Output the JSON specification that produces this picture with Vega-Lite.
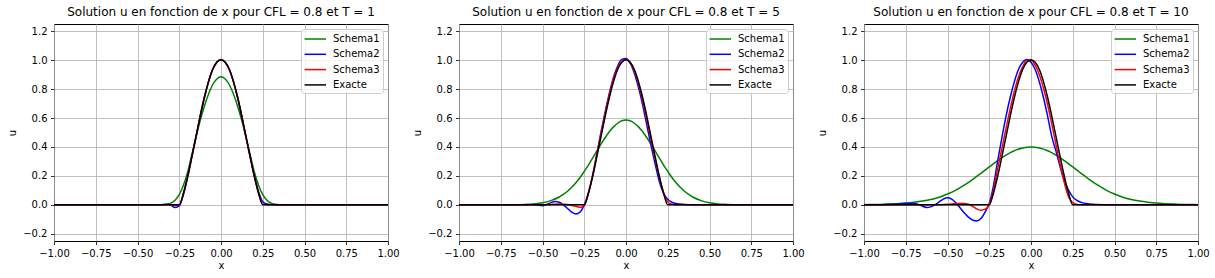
{
"$schema": "https://vega.github.io/schema/vega-lite/v6.json",
"background": "white",
"padding": {"left": 7, "top": 5, "right": 5, "bottom": 5},
"datasets": {
"exact": [
{"s":"Exacte","x":-1,"u":0},{"s":"Exacte","x":-0.25,"u":0},{"s":"Exacte","x":-0.225,"u":0.08},{"s":"Exacte","x":-0.2,"u":0.195},{"s":"Exacte","x":-0.175,"u":0.33},{"s":"Exacte","x":-0.15,"u":0.47},{"s":"Exacte","x":-0.125,"u":0.61},{"s":"Exacte","x":-0.1,"u":0.74},{"s":"Exacte","x":-0.075,"u":0.85},{"s":"Exacte","x":-0.05,"u":0.935},{"s":"Exacte","x":-0.025,"u":0.985},{"s":"Exacte","x":0,"u":1.003},{"s":"Exacte","x":0.025,"u":0.985},{"s":"Exacte","x":0.05,"u":0.935},{"s":"Exacte","x":0.075,"u":0.85},{"s":"Exacte","x":0.1,"u":0.74},{"s":"Exacte","x":0.125,"u":0.61},{"s":"Exacte","x":0.15,"u":0.47},{"s":"Exacte","x":0.175,"u":0.33},{"s":"Exacte","x":0.2,"u":0.195},{"s":"Exacte","x":0.225,"u":0.08},{"s":"Exacte","x":0.25,"u":0},{"s":"Exacte","x":1,"u":0}
],
"sch": [
{"T":1,"s":"Schema1","x":-1,"u":0},{"T":1,"s":"Schema1","x":-0.375,"u":0},{"T":1,"s":"Schema1","x":-0.35,"u":0.001},{"T":1,"s":"Schema1","x":-0.325,"u":0.004},{"T":1,"s":"Schema1","x":-0.3,"u":0.012},{"T":1,"s":"Schema1","x":-0.275,"u":0.032},{"T":1,"s":"Schema1","x":-0.25,"u":0.07},{"T":1,"s":"Schema1","x":-0.225,"u":0.135},{"T":1,"s":"Schema1","x":-0.2,"u":0.225},{"T":1,"s":"Schema1","x":-0.175,"u":0.345},{"T":1,"s":"Schema1","x":-0.15,"u":0.465},{"T":1,"s":"Schema1","x":-0.125,"u":0.58},{"T":1,"s":"Schema1","x":-0.1,"u":0.68},{"T":1,"s":"Schema1","x":-0.075,"u":0.765},{"T":1,"s":"Schema1","x":-0.05,"u":0.83},{"T":1,"s":"Schema1","x":-0.025,"u":0.87},{"T":1,"s":"Schema1","x":0,"u":0.885},{"T":1,"s":"Schema1","x":0.025,"u":0.87},{"T":1,"s":"Schema1","x":0.05,"u":0.83},{"T":1,"s":"Schema1","x":0.075,"u":0.765},{"T":1,"s":"Schema1","x":0.1,"u":0.68},{"T":1,"s":"Schema1","x":0.125,"u":0.58},{"T":1,"s":"Schema1","x":0.15,"u":0.465},{"T":1,"s":"Schema1","x":0.175,"u":0.345},{"T":1,"s":"Schema1","x":0.2,"u":0.225},{"T":1,"s":"Schema1","x":0.225,"u":0.135},{"T":1,"s":"Schema1","x":0.25,"u":0.07},{"T":1,"s":"Schema1","x":0.275,"u":0.032},{"T":1,"s":"Schema1","x":0.3,"u":0.012},{"T":1,"s":"Schema1","x":0.325,"u":0.004},{"T":1,"s":"Schema1","x":0.35,"u":0.001},{"T":1,"s":"Schema1","x":0.375,"u":0},{"T":1,"s":"Schema1","x":1,"u":0},

{"T":1,"s":"Schema2","x":-1,"u":0},{"T":1,"s":"Schema2","x":-0.375,"u":0},{"T":1,"s":"Schema2","x":-0.35,"u":0.002},{"T":1,"s":"Schema2","x":-0.325,"u":0.004},{"T":1,"s":"Schema2","x":-0.3,"u":-0.004},{"T":1,"s":"Schema2","x":-0.275,"u":-0.018},{"T":1,"s":"Schema2","x":-0.25,"u":-0.008},{"T":1,"s":"Schema2","x":-0.225,"u":0.07},{"T":1,"s":"Schema2","x":-0.2,"u":0.19},{"T":1,"s":"Schema2","x":-0.175,"u":0.33},{"T":1,"s":"Schema2","x":-0.15,"u":0.47},{"T":1,"s":"Schema2","x":-0.125,"u":0.61},{"T":1,"s":"Schema2","x":-0.1,"u":0.74},{"T":1,"s":"Schema2","x":-0.075,"u":0.85},{"T":1,"s":"Schema2","x":-0.05,"u":0.935},{"T":1,"s":"Schema2","x":-0.025,"u":0.985},{"T":1,"s":"Schema2","x":0,"u":1.005},{"T":1,"s":"Schema2","x":0.025,"u":0.985},{"T":1,"s":"Schema2","x":0.05,"u":0.935},{"T":1,"s":"Schema2","x":0.075,"u":0.85},{"T":1,"s":"Schema2","x":0.1,"u":0.74},{"T":1,"s":"Schema2","x":0.125,"u":0.605},{"T":1,"s":"Schema2","x":0.15,"u":0.465},{"T":1,"s":"Schema2","x":0.175,"u":0.33},{"T":1,"s":"Schema2","x":0.2,"u":0.2},{"T":1,"s":"Schema2","x":0.225,"u":0.09},{"T":1,"s":"Schema2","x":0.25,"u":0.022},{"T":1,"s":"Schema2","x":0.275,"u":0.006},{"T":1,"s":"Schema2","x":0.3,"u":0.002},{"T":1,"s":"Schema2","x":0.325,"u":0},{"T":1,"s":"Schema2","x":1,"u":0},

{"T":1,"s":"Schema3","x":-1,"u":0},{"T":1,"s":"Schema3","x":-0.325,"u":0},{"T":1,"s":"Schema3","x":-0.3,"u":-0.001},{"T":1,"s":"Schema3","x":-0.275,"u":-0.005},{"T":1,"s":"Schema3","x":-0.25,"u":-0.002},{"T":1,"s":"Schema3","x":-0.225,"u":0.078},{"T":1,"s":"Schema3","x":-0.2,"u":0.195},{"T":1,"s":"Schema3","x":-0.175,"u":0.33},{"T":1,"s":"Schema3","x":-0.15,"u":0.47},{"T":1,"s":"Schema3","x":-0.125,"u":0.61},{"T":1,"s":"Schema3","x":-0.1,"u":0.74},{"T":1,"s":"Schema3","x":-0.075,"u":0.85},{"T":1,"s":"Schema3","x":-0.05,"u":0.935},{"T":1,"s":"Schema3","x":-0.025,"u":0.985},{"T":1,"s":"Schema3","x":0,"u":1.003},{"T":1,"s":"Schema3","x":0.025,"u":0.985},{"T":1,"s":"Schema3","x":0.05,"u":0.935},{"T":1,"s":"Schema3","x":0.075,"u":0.85},{"T":1,"s":"Schema3","x":0.1,"u":0.74},{"T":1,"s":"Schema3","x":0.125,"u":0.61},{"T":1,"s":"Schema3","x":0.15,"u":0.47},{"T":1,"s":"Schema3","x":0.175,"u":0.33},{"T":1,"s":"Schema3","x":0.2,"u":0.195},{"T":1,"s":"Schema3","x":0.225,"u":0.082},{"T":1,"s":"Schema3","x":0.25,"u":0.005},{"T":1,"s":"Schema3","x":0.275,"u":0.001},{"T":1,"s":"Schema3","x":0.3,"u":0},{"T":1,"s":"Schema3","x":1,"u":0},

{"T":5,"s":"Schema1","x":-1,"u":0},{"T":5,"s":"Schema1","x":-0.8,"u":0},{"T":5,"s":"Schema1","x":-0.7,"u":0.0005},{"T":5,"s":"Schema1","x":-0.6,"u":0.003},{"T":5,"s":"Schema1","x":-0.55,"u":0.0064},{"T":5,"s":"Schema1","x":-0.5,"u":0.014},{"T":5,"s":"Schema1","x":-0.45,"u":0.029},{"T":5,"s":"Schema1","x":-0.4,"u":0.054},{"T":5,"s":"Schema1","x":-0.375,"u":0.072},{"T":5,"s":"Schema1","x":-0.35,"u":0.094},{"T":5,"s":"Schema1","x":-0.325,"u":0.121},{"T":5,"s":"Schema1","x":-0.3,"u":0.153},{"T":5,"s":"Schema1","x":-0.275,"u":0.189},{"T":5,"s":"Schema1","x":-0.25,"u":0.231},{"T":5,"s":"Schema1","x":-0.225,"u":0.275},{"T":5,"s":"Schema1","x":-0.2,"u":0.323},{"T":5,"s":"Schema1","x":-0.175,"u":0.371},{"T":5,"s":"Schema1","x":-0.15,"u":0.419},{"T":5,"s":"Schema1","x":-0.125,"u":0.464},{"T":5,"s":"Schema1","x":-0.1,"u":0.505},{"T":5,"s":"Schema1","x":-0.075,"u":0.539},{"T":5,"s":"Schema1","x":-0.05,"u":0.564},{"T":5,"s":"Schema1","x":-0.025,"u":0.581},{"T":5,"s":"Schema1","x":0,"u":0.586},{"T":5,"s":"Schema1","x":0.025,"u":0.581},{"T":5,"s":"Schema1","x":0.05,"u":0.564},{"T":5,"s":"Schema1","x":0.075,"u":0.539},{"T":5,"s":"Schema1","x":0.1,"u":0.505},{"T":5,"s":"Schema1","x":0.125,"u":0.464},{"T":5,"s":"Schema1","x":0.15,"u":0.419},{"T":5,"s":"Schema1","x":0.175,"u":0.371},{"T":5,"s":"Schema1","x":0.2,"u":0.323},{"T":5,"s":"Schema1","x":0.225,"u":0.275},{"T":5,"s":"Schema1","x":0.25,"u":0.231},{"T":5,"s":"Schema1","x":0.275,"u":0.189},{"T":5,"s":"Schema1","x":0.3,"u":0.153},{"T":5,"s":"Schema1","x":0.325,"u":0.121},{"T":5,"s":"Schema1","x":0.35,"u":0.094},{"T":5,"s":"Schema1","x":0.375,"u":0.072},{"T":5,"s":"Schema1","x":0.4,"u":0.054},{"T":5,"s":"Schema1","x":0.45,"u":0.029},{"T":5,"s":"Schema1","x":0.5,"u":0.014},{"T":5,"s":"Schema1","x":0.55,"u":0.0064},{"T":5,"s":"Schema1","x":0.6,"u":0.003},{"T":5,"s":"Schema1","x":0.7,"u":0.0005},{"T":5,"s":"Schema1","x":0.8,"u":0},{"T":5,"s":"Schema1","x":1,"u":0},

{"T":5,"s":"Schema2","x":-1,"u":0},{"T":5,"s":"Schema2","x":-0.6,"u":0},{"T":5,"s":"Schema2","x":-0.55,"u":0.002},{"T":5,"s":"Schema2","x":-0.525,"u":-0.003},{"T":5,"s":"Schema2","x":-0.5,"u":-0.006},{"T":5,"s":"Schema2","x":-0.475,"u":0.002},{"T":5,"s":"Schema2","x":-0.45,"u":0.015},{"T":5,"s":"Schema2","x":-0.425,"u":0.023},{"T":5,"s":"Schema2","x":-0.4,"u":0.018},{"T":5,"s":"Schema2","x":-0.375,"u":0},{"T":5,"s":"Schema2","x":-0.35,"u":-0.025},{"T":5,"s":"Schema2","x":-0.325,"u":-0.05},{"T":5,"s":"Schema2","x":-0.3,"u":-0.064},{"T":5,"s":"Schema2","x":-0.275,"u":-0.05},{"T":5,"s":"Schema2","x":-0.25,"u":0},{"T":5,"s":"Schema2","x":-0.225,"u":0.08},{"T":5,"s":"Schema2","x":-0.2,"u":0.2},{"T":5,"s":"Schema2","x":-0.175,"u":0.35},{"T":5,"s":"Schema2","x":-0.15,"u":0.5},{"T":5,"s":"Schema2","x":-0.125,"u":0.64},{"T":5,"s":"Schema2","x":-0.1,"u":0.77},{"T":5,"s":"Schema2","x":-0.075,"u":0.88},{"T":5,"s":"Schema2","x":-0.05,"u":0.96},{"T":5,"s":"Schema2","x":-0.025,"u":1.005},{"T":5,"s":"Schema2","x":0,"u":1.012},{"T":5,"s":"Schema2","x":0.025,"u":0.98},{"T":5,"s":"Schema2","x":0.05,"u":0.91},{"T":5,"s":"Schema2","x":0.075,"u":0.81},{"T":5,"s":"Schema2","x":0.1,"u":0.69},{"T":5,"s":"Schema2","x":0.125,"u":0.55},{"T":5,"s":"Schema2","x":0.15,"u":0.41},{"T":5,"s":"Schema2","x":0.175,"u":0.28},{"T":5,"s":"Schema2","x":0.2,"u":0.16},{"T":5,"s":"Schema2","x":0.225,"u":0.08},{"T":5,"s":"Schema2","x":0.25,"u":0.038},{"T":5,"s":"Schema2","x":0.275,"u":0.018},{"T":5,"s":"Schema2","x":0.3,"u":0.009},{"T":5,"s":"Schema2","x":0.35,"u":0.003},{"T":5,"s":"Schema2","x":0.4,"u":0},{"T":5,"s":"Schema2","x":1,"u":0},

{"T":5,"s":"Schema3","x":-1,"u":0},{"T":5,"s":"Schema3","x":-0.5,"u":0},{"T":5,"s":"Schema3","x":-0.45,"u":0.003},{"T":5,"s":"Schema3","x":-0.4,"u":0.005},{"T":5,"s":"Schema3","x":-0.35,"u":0.002},{"T":5,"s":"Schema3","x":-0.325,"u":-0.004},{"T":5,"s":"Schema3","x":-0.3,"u":-0.01},{"T":5,"s":"Schema3","x":-0.275,"u":-0.017},{"T":5,"s":"Schema3","x":-0.25,"u":-0.005},{"T":5,"s":"Schema3","x":-0.225,"u":0.085},{"T":5,"s":"Schema3","x":-0.2,"u":0.205},{"T":5,"s":"Schema3","x":-0.175,"u":0.345},{"T":5,"s":"Schema3","x":-0.15,"u":0.49},{"T":5,"s":"Schema3","x":-0.125,"u":0.63},{"T":5,"s":"Schema3","x":-0.1,"u":0.76},{"T":5,"s":"Schema3","x":-0.075,"u":0.87},{"T":5,"s":"Schema3","x":-0.05,"u":0.945},{"T":5,"s":"Schema3","x":-0.025,"u":0.99},{"T":5,"s":"Schema3","x":0,"u":1.005},{"T":5,"s":"Schema3","x":0.025,"u":0.98},{"T":5,"s":"Schema3","x":0.05,"u":0.925},{"T":5,"s":"Schema3","x":0.075,"u":0.835},{"T":5,"s":"Schema3","x":0.1,"u":0.72},{"T":5,"s":"Schema3","x":0.125,"u":0.59},{"T":5,"s":"Schema3","x":0.15,"u":0.45},{"T":5,"s":"Schema3","x":0.175,"u":0.315},{"T":5,"s":"Schema3","x":0.2,"u":0.19},{"T":5,"s":"Schema3","x":0.225,"u":0.085},{"T":5,"s":"Schema3","x":0.25,"u":0.02},{"T":5,"s":"Schema3","x":0.275,"u":0.005},{"T":5,"s":"Schema3","x":0.3,"u":0},{"T":5,"s":"Schema3","x":1,"u":0},

{"T":10,"s":"Schema1","x":-1,"u":0.001},{"T":10,"s":"Schema1","x":-0.95,"u":0.002},{"T":10,"s":"Schema1","x":-0.9,"u":0.003},{"T":10,"s":"Schema1","x":-0.85,"u":0.005},{"T":10,"s":"Schema1","x":-0.8,"u":0.008},{"T":10,"s":"Schema1","x":-0.75,"u":0.012},{"T":10,"s":"Schema1","x":-0.7,"u":0.018},{"T":10,"s":"Schema1","x":-0.65,"u":0.026},{"T":10,"s":"Schema1","x":-0.6,"u":0.037},{"T":10,"s":"Schema1","x":-0.55,"u":0.053},{"T":10,"s":"Schema1","x":-0.5,"u":0.075},{"T":10,"s":"Schema1","x":-0.45,"u":0.102},{"T":10,"s":"Schema1","x":-0.4,"u":0.136},{"T":10,"s":"Schema1","x":-0.35,"u":0.175},{"T":10,"s":"Schema1","x":-0.3,"u":0.218},{"T":10,"s":"Schema1","x":-0.25,"u":0.262},{"T":10,"s":"Schema1","x":-0.2,"u":0.305},{"T":10,"s":"Schema1","x":-0.15,"u":0.344},{"T":10,"s":"Schema1","x":-0.1,"u":0.374},{"T":10,"s":"Schema1","x":-0.05,"u":0.393},{"T":10,"s":"Schema1","x":0,"u":0.4},{"T":10,"s":"Schema1","x":0.05,"u":0.393},{"T":10,"s":"Schema1","x":0.1,"u":0.374},{"T":10,"s":"Schema1","x":0.15,"u":0.344},{"T":10,"s":"Schema1","x":0.2,"u":0.305},{"T":10,"s":"Schema1","x":0.25,"u":0.262},{"T":10,"s":"Schema1","x":0.3,"u":0.218},{"T":10,"s":"Schema1","x":0.35,"u":0.175},{"T":10,"s":"Schema1","x":0.4,"u":0.136},{"T":10,"s":"Schema1","x":0.45,"u":0.102},{"T":10,"s":"Schema1","x":0.5,"u":0.075},{"T":10,"s":"Schema1","x":0.55,"u":0.053},{"T":10,"s":"Schema1","x":0.6,"u":0.037},{"T":10,"s":"Schema1","x":0.65,"u":0.026},{"T":10,"s":"Schema1","x":0.7,"u":0.018},{"T":10,"s":"Schema1","x":0.75,"u":0.012},{"T":10,"s":"Schema1","x":0.8,"u":0.008},{"T":10,"s":"Schema1","x":0.85,"u":0.005},{"T":10,"s":"Schema1","x":0.9,"u":0.003},{"T":10,"s":"Schema1","x":0.95,"u":0.002},{"T":10,"s":"Schema1","x":1,"u":0.001},

{"T":10,"s":"Schema2","x":-1,"u":0},{"T":10,"s":"Schema2","x":-0.9,"u":0.001},{"T":10,"s":"Schema2","x":-0.8,"u":0.005},{"T":10,"s":"Schema2","x":-0.75,"u":0.01},{"T":10,"s":"Schema2","x":-0.7,"u":0.01},{"T":10,"s":"Schema2","x":-0.675,"u":0.003},{"T":10,"s":"Schema2","x":-0.65,"u":-0.01},{"T":10,"s":"Schema2","x":-0.625,"u":-0.018},{"T":10,"s":"Schema2","x":-0.6,"u":-0.014},{"T":10,"s":"Schema2","x":-0.575,"u":0},{"T":10,"s":"Schema2","x":-0.55,"u":0.02},{"T":10,"s":"Schema2","x":-0.525,"u":0.04},{"T":10,"s":"Schema2","x":-0.5,"u":0.049},{"T":10,"s":"Schema2","x":-0.475,"u":0.04},{"T":10,"s":"Schema2","x":-0.45,"u":0.015},{"T":10,"s":"Schema2","x":-0.425,"u":-0.02},{"T":10,"s":"Schema2","x":-0.4,"u":-0.055},{"T":10,"s":"Schema2","x":-0.375,"u":-0.085},{"T":10,"s":"Schema2","x":-0.35,"u":-0.105},{"T":10,"s":"Schema2","x":-0.325,"u":-0.112},{"T":10,"s":"Schema2","x":-0.3,"u":-0.095},{"T":10,"s":"Schema2","x":-0.275,"u":-0.05},{"T":10,"s":"Schema2","x":-0.25,"u":0.01},{"T":10,"s":"Schema2","x":-0.225,"u":0.13},{"T":10,"s":"Schema2","x":-0.2,"u":0.3},{"T":10,"s":"Schema2","x":-0.175,"u":0.46},{"T":10,"s":"Schema2","x":-0.15,"u":0.61},{"T":10,"s":"Schema2","x":-0.125,"u":0.74},{"T":10,"s":"Schema2","x":-0.1,"u":0.85},{"T":10,"s":"Schema2","x":-0.075,"u":0.935},{"T":10,"s":"Schema2","x":-0.05,"u":0.985},{"T":10,"s":"Schema2","x":-0.025,"u":1.005},{"T":10,"s":"Schema2","x":0,"u":0.985},{"T":10,"s":"Schema2","x":0.025,"u":0.935},{"T":10,"s":"Schema2","x":0.05,"u":0.85},{"T":10,"s":"Schema2","x":0.075,"u":0.74},{"T":10,"s":"Schema2","x":0.1,"u":0.61},{"T":10,"s":"Schema2","x":0.125,"u":0.47},{"T":10,"s":"Schema2","x":0.15,"u":0.37},{"T":10,"s":"Schema2","x":0.175,"u":0.26},{"T":10,"s":"Schema2","x":0.2,"u":0.165},{"T":10,"s":"Schema2","x":0.225,"u":0.1},{"T":10,"s":"Schema2","x":0.25,"u":0.055},{"T":10,"s":"Schema2","x":0.275,"u":0.03},{"T":10,"s":"Schema2","x":0.3,"u":0.017},{"T":10,"s":"Schema2","x":0.35,"u":0.006},{"T":10,"s":"Schema2","x":0.4,"u":0.002},{"T":10,"s":"Schema2","x":0.45,"u":0},{"T":10,"s":"Schema2","x":1,"u":0},

{"T":10,"s":"Schema3","x":-1,"u":0},{"T":10,"s":"Schema3","x":-0.6,"u":0},{"T":10,"s":"Schema3","x":-0.55,"u":0.001},{"T":10,"s":"Schema3","x":-0.5,"u":0.004},{"T":10,"s":"Schema3","x":-0.45,"u":0.009},{"T":10,"s":"Schema3","x":-0.4,"u":0.01},{"T":10,"s":"Schema3","x":-0.375,"u":0.005},{"T":10,"s":"Schema3","x":-0.35,"u":-0.01},{"T":10,"s":"Schema3","x":-0.325,"u":-0.028},{"T":10,"s":"Schema3","x":-0.3,"u":-0.037},{"T":10,"s":"Schema3","x":-0.275,"u":-0.03},{"T":10,"s":"Schema3","x":-0.25,"u":0},{"T":10,"s":"Schema3","x":-0.225,"u":0.1},{"T":10,"s":"Schema3","x":-0.2,"u":0.249},{"T":10,"s":"Schema3","x":-0.175,"u":0.386},{"T":10,"s":"Schema3","x":-0.15,"u":0.526},{"T":10,"s":"Schema3","x":-0.125,"u":0.662},{"T":10,"s":"Schema3","x":-0.1,"u":0.784},{"T":10,"s":"Schema3","x":-0.075,"u":0.884},{"T":10,"s":"Schema3","x":-0.05,"u":0.955},{"T":10,"s":"Schema3","x":-0.025,"u":0.997},{"T":10,"s":"Schema3","x":0,"u":1.0},{"T":10,"s":"Schema3","x":0.025,"u":0.965},{"T":10,"s":"Schema3","x":0.05,"u":0.9},{"T":10,"s":"Schema3","x":0.075,"u":0.806},{"T":10,"s":"Schema3","x":0.1,"u":0.69},{"T":10,"s":"Schema3","x":0.125,"u":0.555},{"T":10,"s":"Schema3","x":0.15,"u":0.415},{"T":10,"s":"Schema3","x":0.175,"u":0.276},{"T":10,"s":"Schema3","x":0.2,"u":0.15},{"T":10,"s":"Schema3","x":0.225,"u":0.055},{"T":10,"s":"Schema3","x":0.25,"u":0.015},{"T":10,"s":"Schema3","x":0.275,"u":0.003},{"T":10,"s":"Schema3","x":0.3,"u":0},{"T":10,"s":"Schema3","x":1,"u":0}
]
},
"hconcat": [
{"width": 334, "height": 217, "title": "Solution u en fonction de x pour CFL = 0.8 et T = 1",
 "encoding": {
  "x": {"field": "x", "type": "quantitative", "scale": {"domain": [-1, 1], "nice": false, "zero": false}, "axis": {"values": [-1, -0.75, -0.5, -0.25, 0, 0.25, 0.5, 0.75, 1], "format": ".2f", "title": "x", "labelOverlap": false, "labelFlush": false}},
  "y": {"field": "u", "type": "quantitative", "scale": {"domain": [-0.25, 1.25], "nice": false, "zero": false}, "axis": {"values": [-0.2, 0, 0.2, 0.4, 0.6, 0.8, 1, 1.2], "format": ".1f", "title": "u", "labelOverlap": false, "labelFlush": false}},
  "color": {"field": "s", "type": "nominal", "scale": {"domain": ["Schema1", "Schema2", "Schema3", "Exacte"], "range": ["#008000", "#0000ff", "#ff0000", "#000000"]}}
 },
 "layer": [
  {"data": {"name": "sch"}, "transform": [{"filter": "datum.T == 1"}], "mark": {"type": "line", "interpolate": "monotone", "strokeWidth": 1.5, "clip": true}},
  {"data": {"name": "exact"}, "mark": {"type": "line", "interpolate": "monotone", "strokeWidth": 1.5, "clip": true}}
 ]},
{"width": 334, "height": 217, "title": "Solution u en fonction de x pour CFL = 0.8 et T = 5",
 "encoding": {
  "x": {"field": "x", "type": "quantitative", "scale": {"domain": [-1, 1], "nice": false, "zero": false}, "axis": {"values": [-1, -0.75, -0.5, -0.25, 0, 0.25, 0.5, 0.75, 1], "format": ".2f", "title": "x", "labelOverlap": false, "labelFlush": false}},
  "y": {"field": "u", "type": "quantitative", "scale": {"domain": [-0.25, 1.25], "nice": false, "zero": false}, "axis": {"values": [-0.2, 0, 0.2, 0.4, 0.6, 0.8, 1, 1.2], "format": ".1f", "title": "u", "labelOverlap": false, "labelFlush": false}},
  "color": {"field": "s", "type": "nominal", "scale": {"domain": ["Schema1", "Schema2", "Schema3", "Exacte"], "range": ["#008000", "#0000ff", "#ff0000", "#000000"]}}
 },
 "layer": [
  {"data": {"name": "sch"}, "transform": [{"filter": "datum.T == 5"}], "mark": {"type": "line", "interpolate": "monotone", "strokeWidth": 1.5, "clip": true}},
  {"data": {"name": "exact"}, "mark": {"type": "line", "interpolate": "monotone", "strokeWidth": 1.5, "clip": true}}
 ]},
{"width": 334, "height": 217, "title": "Solution u en fonction de x pour CFL = 0.8 et T = 10",
 "encoding": {
  "x": {"field": "x", "type": "quantitative", "scale": {"domain": [-1, 1], "nice": false, "zero": false}, "axis": {"values": [-1, -0.75, -0.5, -0.25, 0, 0.25, 0.5, 0.75, 1], "format": ".2f", "title": "x", "labelOverlap": false, "labelFlush": false}},
  "y": {"field": "u", "type": "quantitative", "scale": {"domain": [-0.25, 1.25], "nice": false, "zero": false}, "axis": {"values": [-0.2, 0, 0.2, 0.4, 0.6, 0.8, 1, 1.2], "format": ".1f", "title": "u", "labelOverlap": false, "labelFlush": false}},
  "color": {"field": "s", "type": "nominal", "scale": {"domain": ["Schema1", "Schema2", "Schema3", "Exacte"], "range": ["#008000", "#0000ff", "#ff0000", "#000000"]}}
 },
 "layer": [
  {"data": {"name": "sch"}, "transform": [{"filter": "datum.T == 10"}], "mark": {"type": "line", "interpolate": "monotone", "strokeWidth": 1.5, "clip": true}},
  {"data": {"name": "exact"}, "mark": {"type": "line", "interpolate": "monotone", "strokeWidth": 1.5, "clip": true}}
 ]}
],
"spacing": 71,
"bounds": "flush",
"resolve": {"legend": {"color": "independent"}},
"config": {
 "font": "DejaVu Sans",
 "view": {"stroke": "black", "strokeWidth": 1},
 "axis": {"domain": false, "grid": true, "gridColor": "#b0b0b0", "gridWidth": 0.8, "tickColor": "black", "tickSize": 3.5, "tickWidth": 0.8, "labelFont": "DejaVu Sans", "labelFontSize": 10, "labelColor": "black", "labelPadding": 3.5, "labelFlush": false, "labelOverlap": false, "titleFont": "DejaVu Sans", "titleFontSize": 10, "titleFontWeight": "normal", "titleColor": "black"},
 "axisX": {"titlePadding": 2},
 "axisY": {"titlePadding": 5},
 "title": {"font": "DejaVu Sans", "fontSize": 12, "fontWeight": "normal", "color": "black", "offset": 5},
 "legend": {"orient": "top-right", "offset": 5, "title": null, "fillColor": "rgba(255,255,255,0.8)", "strokeColor": "#cccccc", "cornerRadius": 3, "padding": 3, "labelFont": "DejaVu Sans", "labelFontSize": 10, "labelColor": "black", "symbolStrokeWidth": 1.5, "symbolType": "M-1.07,0H2.5", "symbolSize": 144, "labelOffset": 15, "rowPadding": 3.3}
}
}
